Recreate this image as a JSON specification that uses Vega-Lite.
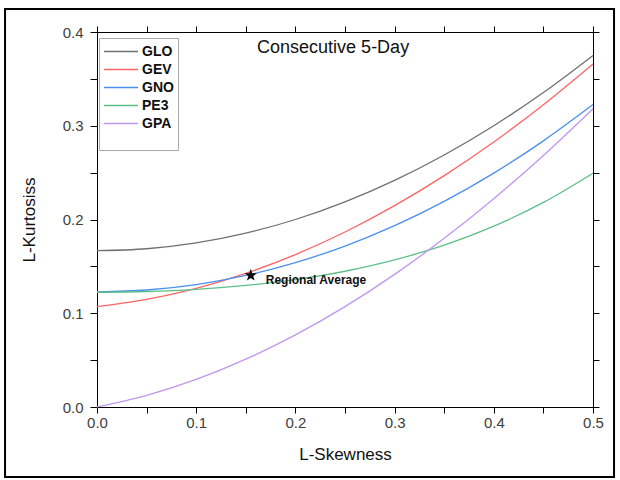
{
  "$schema": "https://vega.github.io/schema/vega-lite/v6.json",
  "width": 496,
  "height": 375,
  "autosize": {"type": "none"},
  "padding": {"left": 97, "top": 32, "right": 27, "bottom": 73},
  "background": "white",
  "config": {
    "view": {"stroke": "black", "strokeWidth": 1},
    "font": "Liberation Sans",
    "axis": {"grid": false, "domainColor": "black", "tickColor": "black", "labelColor": "#404040", "labelFont": "Liberation Sans", "titleFont": "Liberation Sans", "titleFontWeight": "normal", "titleColor": "#111", "labelFontSize": 15, "titleFontSize": 17}
  },
  "datasets": {
    "curves": [
      {"dist": "GLO", "t3": 0, "t4": 0.1667}, {"dist": "GLO", "t3": 0.05, "t4": 0.1688}, {"dist": "GLO", "t3": 0.1, "t4": 0.175}, {"dist": "GLO", "t3": 0.15, "t4": 0.1854}, {"dist": "GLO", "t3": 0.2, "t4": 0.2}, {"dist": "GLO", "t3": 0.25, "t4": 0.2188}, {"dist": "GLO", "t3": 0.3, "t4": 0.2417}, {"dist": "GLO", "t3": 0.35, "t4": 0.2688}, {"dist": "GLO", "t3": 0.4, "t4": 0.3}, {"dist": "GLO", "t3": 0.45, "t4": 0.3354}, {"dist": "GLO", "t3": 0.5, "t4": 0.375},
      {"dist": "GEV", "t3": 0, "t4": 0.107}, {"dist": "GEV", "t3": 0.05, "t4": 0.1147}, {"dist": "GEV", "t3": 0.1, "t4": 0.1265}, {"dist": "GEV", "t3": 0.15, "t4": 0.1425}, {"dist": "GEV", "t3": 0.2, "t4": 0.1626}, {"dist": "GEV", "t3": 0.25, "t4": 0.1867}, {"dist": "GEV", "t3": 0.3, "t4": 0.2148}, {"dist": "GEV", "t3": 0.35, "t4": 0.2468}, {"dist": "GEV", "t3": 0.4, "t4": 0.2827}, {"dist": "GEV", "t3": 0.45, "t4": 0.3224}, {"dist": "GEV", "t3": 0.5, "t4": 0.3659},
      {"dist": "GNO", "t3": 0, "t4": 0.1228}, {"dist": "GNO", "t3": 0.05, "t4": 0.1248}, {"dist": "GNO", "t3": 0.1, "t4": 0.1306}, {"dist": "GNO", "t3": 0.15, "t4": 0.1403}, {"dist": "GNO", "t3": 0.2, "t4": 0.154}, {"dist": "GNO", "t3": 0.25, "t4": 0.1717}, {"dist": "GNO", "t3": 0.3, "t4": 0.1935}, {"dist": "GNO", "t3": 0.35, "t4": 0.2194}, {"dist": "GNO", "t3": 0.4, "t4": 0.2495}, {"dist": "GNO", "t3": 0.45, "t4": 0.2839}, {"dist": "GNO", "t3": 0.5, "t4": 0.3226},
      {"dist": "PE3", "t3": 0, "t4": 0.1224}, {"dist": "PE3", "t3": 0.05, "t4": 0.1232}, {"dist": "PE3", "t3": 0.1, "t4": 0.1255}, {"dist": "PE3", "t3": 0.15, "t4": 0.1297}, {"dist": "PE3", "t3": 0.2, "t4": 0.1359}, {"dist": "PE3", "t3": 0.25, "t4": 0.1448}, {"dist": "PE3", "t3": 0.3, "t4": 0.1569}, {"dist": "PE3", "t3": 0.35, "t4": 0.1727}, {"dist": "PE3", "t3": 0.4, "t4": 0.1929}, {"dist": "PE3", "t3": 0.45, "t4": 0.2182}, {"dist": "PE3", "t3": 0.5, "t4": 0.2494},
      {"dist": "GPA", "t3": 0, "t4": 0}, {"dist": "GPA", "t3": 0.05, "t4": 0.0124}, {"dist": "GPA", "t3": 0.1, "t4": 0.0294}, {"dist": "GPA", "t3": 0.15, "t4": 0.051}, {"dist": "GPA", "t3": 0.2, "t4": 0.0769}, {"dist": "GPA", "t3": 0.25, "t4": 0.1071}, {"dist": "GPA", "t3": 0.3, "t4": 0.1415}, {"dist": "GPA", "t3": 0.35, "t4": 0.1799}, {"dist": "GPA", "t3": 0.4, "t4": 0.2222}, {"dist": "GPA", "t3": 0.45, "t4": 0.2683}, {"dist": "GPA", "t3": 0.5, "t4": 0.3182}
    ],
    "site": [{"t3": 0.155, "t4": 0.1405, "label": "Regional Average"}],
    "heading": [{"t3": 0.238, "t4": 0.383, "label": "Consecutive 5-Day"}],
    "frame": [{"x0": -0.0927, "x1": 0.5212, "y0": 0.4245, "y1": -0.0747}]
  },
  "layer": [
    {
      "data": {"name": "curves"},
      "mark": {"type": "line", "strokeWidth": 1.3, "interpolate": "monotone"},
      "encoding": {
        "x": {"field": "t3", "type": "quantitative", "scale": {"domain": [0, 0.5], "nice": false},
          "axis": {"orient": "bottom", "title": "L-Skewness", "values": [0, 0.05, 0.1, 0.15, 0.2, 0.25, 0.3, 0.35, 0.4, 0.45, 0.5],
            "labelExpr": "abs(datum.value*10 - round(datum.value*10)) < 0.001 ? format(datum.value, '.1f') : ''",
            "labelFlush": false, "tickSize": 6, "labelPadding": 2, "titlePadding": 16,
            "encode": {"ticks": {"update": {"y2": {"signal": "abs(datum.value*10 - round(datum.value*10)) < 0.001 ? 6 : 4"}}}}}},
        "y": {"field": "t4", "type": "quantitative", "scale": {"domain": [0, 0.4], "nice": false},
          "axis": {"orient": "left", "title": "L-Kurtosiss", "values": [0, 0.05, 0.1, 0.15, 0.2, 0.25, 0.3, 0.35, 0.4],
            "labelExpr": "abs(datum.value*10 - round(datum.value*10)) < 0.001 ? format(datum.value, '.1f') : ''",
            "labelFlush": false, "tickSize": 7, "labelPadding": 7, "titlePadding": 24,
            "encode": {"ticks": {"update": {"x2": {"signal": "abs(datum.value*10 - round(datum.value*10)) < 0.001 ? -7 : -5"}}}}}},
        "color": {"field": "dist", "type": "nominal",
          "scale": {"domain": ["GLO", "GEV", "GNO", "PE3", "GPA"], "range": ["#707070", "#ff6464", "#4a8ff0", "#5cbf88", "#bf96f0"]},
          "legend": {"orient": "none", "legendX": 2, "legendY": 6, "title": " ", "titleOrient": "bottom", "titleFontSize": 12, "titlePadding": 4,
            "strokeColor": "#aaaaaa", "fillColor": "white", "padding": 4, "symbolType": "M-1,0L3,0", "symbolSize": 289, "symbolStrokeWidth": 1.5,
            "labelFont": "Liberation Sans", "labelFontSize": 14, "labelFontWeight": "bold", "labelColor": "#111", "rowPadding": 1, "labelOffset": 20}},
        "order": {"field": "t3", "type": "quantitative"}
      }
    },
    {
      "data": {"name": "site"},
      "mark": {"type": "point", "shape": "M0,-1L0.235,-0.324L0.951,-0.309L0.38,0.124L0.588,0.809L0,0.4L-0.588,0.809L-0.38,0.124L-0.951,-0.309L-0.235,-0.324Z", "filled": true, "color": "black", "size": 170, "opacity": 1},
      "encoding": {
        "x": {"field": "t3", "type": "quantitative", "scale": {"domain": [0, 0.5], "nice": false},
          "axis": {"orient": "top", "title": null, "labels": false, "values": [0, 0.05, 0.1, 0.15, 0.2, 0.25, 0.3, 0.35, 0.4, 0.45, 0.5], "tickSize": 6,
            "encode": {"ticks": {"update": {"y2": {"signal": "abs(datum.value*10 - round(datum.value*10)) < 0.001 ? 6 : 4"}}}}}},
        "y": {"field": "t4", "type": "quantitative", "scale": {"domain": [0, 0.4], "nice": false},
          "axis": {"orient": "right", "title": null, "labels": false, "values": [0, 0.05, 0.1, 0.15, 0.2, 0.25, 0.3, 0.35, 0.4], "tickSize": 6,
            "encode": {"ticks": {"update": {"x2": {"signal": "abs(datum.value*10 - round(datum.value*10)) < 0.001 ? -6 : -4"}}}}}}
      }
    },
    {
      "data": {"name": "site"},
      "mark": {"type": "text", "align": "left", "baseline": "middle", "dx": 15, "dy": 5, "fontSize": 12, "fontWeight": "bold", "font": "Liberation Sans", "color": "#111"},
      "encoding": {
        "x": {"field": "t3", "type": "quantitative", "axis": null},
        "y": {"field": "t4", "type": "quantitative", "axis": null},
        "text": {"field": "label"}
      }
    },
    {
      "data": {"name": "heading"},
      "mark": {"type": "text", "align": "center", "baseline": "middle", "fontSize": 18, "font": "Liberation Sans", "color": "#111"},
      "encoding": {
        "x": {"field": "t3", "type": "quantitative", "axis": null},
        "y": {"field": "t4", "type": "quantitative", "axis": null},
        "text": {"field": "label"}
      }
    },
    {
      "data": {"name": "frame"},
      "mark": {"type": "rect", "filled": false, "stroke": "black", "strokeWidth": 2, "clip": false},
      "encoding": {
        "x": {"field": "x0", "type": "quantitative", "axis": null},
        "x2": {"field": "x1"},
        "y": {"field": "y0", "type": "quantitative", "axis": null},
        "y2": {"field": "y1"}
      }
    }
  ],
  "resolve": {"axis": {"x": "independent", "y": "independent"}}
}
